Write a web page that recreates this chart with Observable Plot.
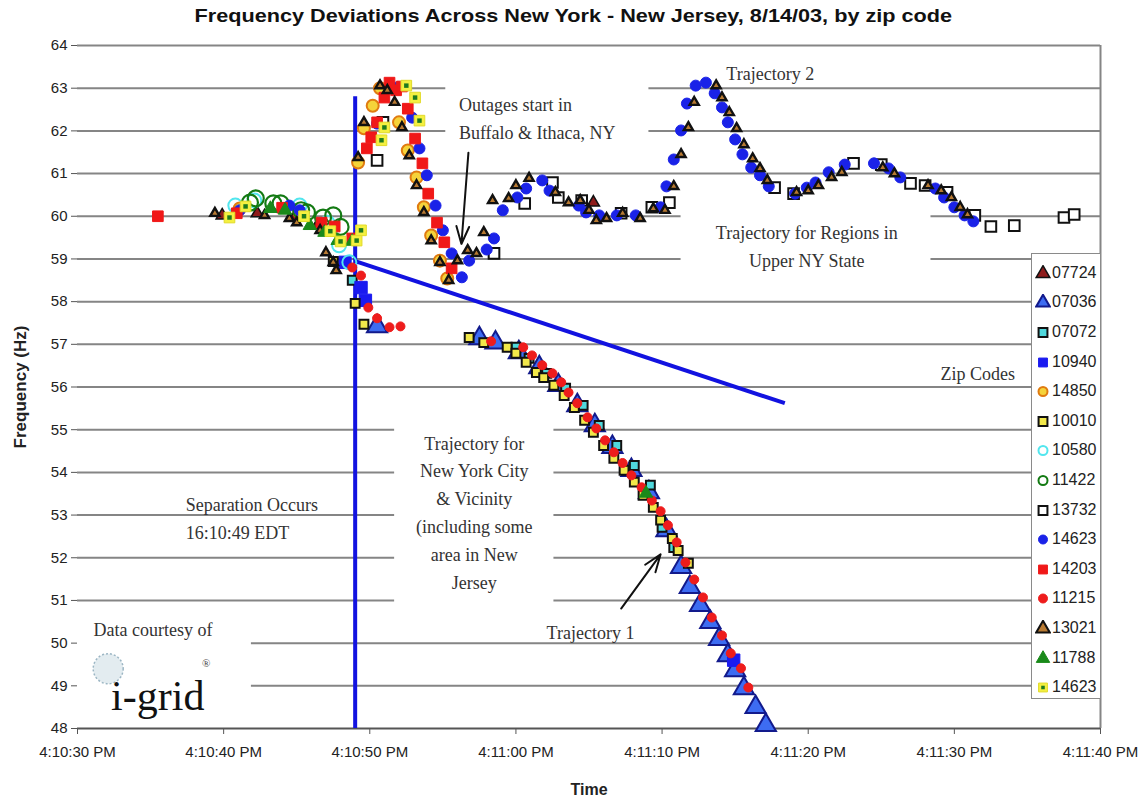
<!DOCTYPE html>
<html>
<head>
<meta charset="utf-8">
<script src="https://cdn.jsdelivr.net/npm/d3@7"></script>
<script src="https://cdn.jsdelivr.net/npm/@observablehq/plot@0.6"></script>
<style>
  body { margin: 0; background: #fff; }
  #wrap { position: relative; width: 1146px; height: 803px; overflow: hidden; font-family: "Liberation Sans", Arial, sans-serif; }
  #title { position: absolute; top: 5px; left: 0; width: 1146px; text-align: center; }
  #title span { display: inline-block; font-weight: bold; font-size: 19px; color: #111; transform: scaleX(1.14); transform-origin: center; }
  #chart { position: absolute; top: 0; left: 0; }
  #chart g[aria-label="x-axis label"] text { font-weight: bold; font-size: 16px; }
  #chart g[aria-label="y-axis label"] text { font-weight: bold; font-size: 17px; }
  #legend { position: absolute; left: 1031px; top: 253px; width: 70px; height: 446px; background: #fff; border: 1px solid #8a8a8a; box-sizing: border-box; padding-top: 4px; }
  #legend .item { display: flex; align-items: center; height: 29.6px; font-size: 16px; color: #222; }
  #legend svg { margin-left: 3px; margin-right: 1px; }
</style>
</head>
<body>
<div id="wrap">
  <div id="title"><span>Frequency Deviations Across New York - New Jersey, 8/14/03, by zip code</span></div>
  <div id="chart"></div>
  <div id="legend"></div>
</div>
<script>
// Each point is [seconds after 4:10:00 PM, frequency in Hz]
const zip07724 = [[39.9,60.02],[42.3,60.07],[44.9,60.0],[46.4,59.78],[65.3,60.32]];
const zip07036 = [[50.5,57.42],[57.5,57.14],[58.6,57.04],[60.2,56.81],[61.6,56.46],[62.9,56.04],[64.2,55.57],[65.4,55.10],[66.6,54.59],[67.9,54.05],[69.1,53.53],[70.3,52.64],[71.3,51.78],[71.9,51.31],[72.6,50.89],[73.3,50.49],[73.9,50.09],[74.5,49.71],[75.0,49.36],[75.6,48.94],[76.4,48.50],[77.1,48.08]];
const zip07072 = [[48.8,58.50],[60.0,56.93],[60.9,56.67],[62.1,56.32],[63.4,55.97],[64.6,55.57],[65.7,55.10],[66.9,54.63],[68.1,54.16],[69.2,53.70],[70.0,52.71],[70.8,52.24]];
const zip10940 = [[48.3,58.92],[49.4,58.33],[49.7,58.03],[74.9,49.60]];
const zip14850 = [[41.1,60.18],[45.2,60.09],[49.2,61.26],[49.6,62.06],[50.2,62.59],[50.7,63.0],[52.0,62.20],[52.6,61.54],[53.2,60.91],[53.7,60.21],[54.2,59.55],[54.8,58.96],[55.3,58.54]];
const zip10010 = [[47.5,58.94],[49.0,57.96],[49.6,57.47],[56.8,57.16],[57.8,57.04],[59.4,56.93],[60.0,56.79],[60.7,56.58],[61.4,56.34],[61.9,56.22],[62.6,56.04],[63.3,55.80],[64.0,55.52],[64.7,55.22],[65.3,54.94],[66.0,54.63],[66.7,54.33],[67.4,54.05],[68.1,53.77],[68.7,53.46],[69.4,53.18],[69.9,52.88],[70.7,52.45],[71.1,52.17],[71.8,51.87]];
const zip10580 = [[40.8,60.25],[42.1,60.37],[45.2,60.25],[47.1,59.85],[47.9,59.32],[48.6,58.92]];
const zip11422 = [[41.8,60.32],[42.2,60.42],[43.4,60.30],[43.9,60.30],[45.3,60.14],[45.7,60.09],[46.8,59.97],[47.5,60.02],[48.0,59.75]];
const zip13732 = [[50.5,61.31],[50.9,62.20],[58.5,59.13],[60.6,60.30],[62.5,60.79],[62.9,60.44],[64.5,60.37],[67.2,60.07],[69.3,60.21],[70.5,60.32],[77.7,60.67],[79.0,60.53],[83.1,61.24],[85.0,61.21],[87.0,60.77],[88.0,60.72],[89.5,60.56],[91.4,60.02],[92.5,59.76],[94.1,59.78],[97.5,59.97],[98.2,60.04]];
const zip14623 = [[41.1,60.14],[44.5,60.25],[45.2,60.14],[50.5,62.17],[51.9,63.02],[52.9,62.31],[53.4,61.59],[53.9,60.96],[54.5,60.25],[55.0,59.67],[55.6,59.13],[56.3,58.57],[56.8,58.96],[58.0,59.22],[58.5,59.48],[59.1,60.14],[60.1,60.44],[60.7,60.65],[61.8,60.84],[62.3,60.60],[64.3,60.25],[64.8,60.09],[65.7,60.02],[66.9,60.02],[68.2,60.02],[69.9,60.21],[70.3,60.70],[70.8,61.33],[71.3,62.01],[71.7,62.64],[72.3,63.06],[73.0,63.13],[73.6,62.88],[74.1,62.55],[74.5,62.20],[75.0,61.80],[75.5,61.45],[76.1,61.14],[76.7,60.96],[77.3,60.70],[79.1,60.53],[79.9,60.67],[80.5,60.79],[81.4,61.03],[82.5,61.21],[84.5,61.24],[85.5,61.12],[86.3,60.91],[88.7,60.65],[89.3,60.44],[90.0,60.21],[90.7,60.02],[91.3,59.88]];
const zip14203 = [[35.5,60.0],[40.9,60.07],[44.0,60.20],[46.7,59.85],[47.6,59.76],[48.8,59.48],[49.8,61.59],[50.1,61.85],[50.5,62.20],[51.0,62.78],[51.35,63.13],[51.8,62.95],[52.2,63.04],[52.6,62.52],[53.1,61.82],[53.6,61.24],[54.0,60.53],[54.6,59.85],[55.1,59.39],[55.6,58.78]];
const zip11215 = [[48.8,58.80],[49.4,58.61],[49.9,57.86],[50.5,57.61],[51.35,57.40],[52.1,57.42],[58.3,57.07],[60.5,56.93],[61.1,56.74],[61.8,56.51],[62.5,56.32],[63.1,56.11],[63.6,55.87],[64.2,55.62],[64.9,55.29],[65.5,55.03],[66.1,54.75],[66.7,54.47],[67.3,54.22],[67.9,53.93],[68.6,53.65],[69.3,53.34],[69.9,53.09],[70.4,52.76],[71.0,52.36],[71.6,51.89],[72.2,51.49],[72.8,51.07],[73.4,50.60],[74.1,50.18],[74.7,49.76],[75.4,49.41],[75.9,48.96]];
const zip13021 = [[39.4,60.07],[42.8,60.02],[44.5,59.95],[45.0,59.85],[46.6,59.67],[47.0,59.15],[47.5,58.92],[47.7,58.73],[49.2,61.38],[49.6,62.20],[50.7,63.06],[51.2,62.95],[51.7,62.67],[52.2,62.08],[52.7,61.42],[53.2,60.72],[53.7,60.09],[54.2,59.43],[54.8,58.92],[55.4,58.50],[56.0,58.96],[56.7,59.20],[57.3,59.13],[57.8,59.62],[58.4,60.37],[59.5,60.42],[60.0,60.72],[60.9,60.89],[62.7,60.56],[63.6,60.32],[64.4,60.37],[65.0,60.14],[65.5,59.90],[66.2,59.95],[67.3,60.07],[68.5,59.95],[69.4,60.18],[70.2,60.14],[70.8,60.70],[71.3,61.45],[71.8,62.08],[72.2,62.67],[73.7,63.06],[74.1,62.78],[74.6,62.43],[75.1,62.06],[75.6,61.68],[76.2,61.35],[76.7,61.12],[77.2,60.84],[79.2,60.56],[80.0,60.60],[80.7,60.72],[81.6,60.91],[82.3,61.03],[85.1,61.14],[85.9,61.00],[88.2,60.72],[89.1,60.60],[89.8,60.44],[90.4,60.21],[90.9,60.04]];
const zip11788 = [[43.2,60.18],[44.2,60.14],[45.9,59.78],[46.9,59.62],[47.8,59.43],[48.8,59.41],[68.9,53.51]];
const zip14623b = [[40.4,59.97],[41.5,60.23],[45.5,60.0],[47.3,59.65],[48.0,59.41],[49.1,59.43],[49.4,59.67],[50.8,61.78],[51.0,62.08],[52.5,63.06],[53.1,62.78],[53.4,62.24]];

// Series in legend order; the last one repeats the 14623 label
const zipLabels = ["07724","07036","07072","10940","14850","10010","10580","11422","13732","14623","14203","11215","13021","11788","14623"];
const zipPoints = [zip07724, zip07036, zip07072, zip10940, zip14850, zip10010, zip10580, zip11422, zip13732, zip14623, zip14203, zip11215, zip13021, zip11788, zip14623b];

const xTickSeconds = [30, 40, 50, 60, 70, 80, 90, 100];
const yTicks = [48,49,50,51,52,53,54,55,56,57,58,59,60,61,62,63,64];

// Marker look for each series (same order as zipLabels)
const markerStyles = [
  {symbol:"triangle", fill:"#8e1b1b", stroke:"#111", sw:1.5, r:4.5},
  {symbol:"triangle", fill:"#3d6cf2", stroke:"#121a8c", sw:2, r:7.5},
  {symbol:"square", fill:"#4fd8dc", stroke:"#111", sw:2, r:5},
  {symbol:"square", fill:"#1a1af0", stroke:"#1a1af0", sw:1, r:7},
  {symbol:"circle", fill:"#f5d33a", stroke:"#e07b10", sw:2, r:6},
  {symbol:"square", fill:"#f2e84a", stroke:"#111", sw:2, r:5},
  {symbol:"circle", fill:"none", stroke:"#52e6ee", sw:2, r:7},
  {symbol:"circle", fill:"none", stroke:"#137a13", sw:2.2, r:8},
  {symbol:"square", fill:"#fff", stroke:"#111", sw:2, r:6},
  {symbol:"circle", fill:"#1a22e8", stroke:"#1a22e8", sw:1, r:5.5},
  {symbol:"square", fill:"#f01818", stroke:"#f01818", sw:1, r:6},
  {symbol:"circle", fill:"#ee1c1c", stroke:"#ee1c1c", sw:1, r:4.5},
  {symbol:"triangle", fill:"#b87a32", stroke:"#111", sw:2.4, r:3.4},
  {symbol:"triangle", fill:"#1a8a1a", stroke:"#1a8a1a", sw:1, r:5},
  {symbol:"square", fill:"#f4f040", stroke:"#e2da2a", sw:1, r:6, inner:"#1e7a1e"}
];

const base = new Date(2003, 7, 14, 16, 10, 0);
const t = s => new Date(base.getTime() + Math.round(s * 1000));
const fmt = d3.timeFormat("%-I:%M:%S %p");

// Annotation boxes that hide the gridlines behind text (seconds, Hz)
const noteBoxes = [
  {s1:55.2, s2:69.1, f1:61.78, f2:63.23},
  {s1:71.3, s2:88.4, f1:58.62, f2:60.22},
  {s1:51.7, s2:62.6, f1:50.88, f2:55.26},
  {s1:29.8, s2:41.9, f1:48.06, f2:50.72}
];
const serif = "'Liberation Serif', 'Times New Roman', serif";
// Left-aligned annotations
const notesLeft = [
  {s:56.1, f:62.35, text:"Outages start in\nBuffalo & Ithaca, NY"},
  {s:37.4, f:52.97, text:"Separation Occurs\n16:10:49 EDT"},
  {s:31.1, f:50.37, text:"Data courtesy of"}
];
// Centred annotations
const notesCentre = [
  {s:77.4, f:63.41, text:"Trajectory 2"},
  {s:79.9, f:59.34, text:"Trajectory for Regions in\nUpper NY State"},
  {s:57.15, f:53.11, text:"Trajectory for\nNew York City\n& Vicinity\n(including some\narea in New\nJersey"},
  {s:65.1, f:50.30, text:"Trajectory 1"},
  {s:91.6, f:56.37, text:"Zip Codes"}
];
const arrows = [
  {s1:56.75, f1:61.49, s2:56.27, f2:59.35},
  {s1:67.2, f1:50.81, s2:69.9, f2:52.08}
];
const separationTime = 49;   // 16:10:49
const separationLine = {s1:49, f1:58.95, s2:78.4, f2:55.62};

const seriesMarks = [];
zipPoints.forEach((pts, i) => {
  const st = markerStyles[i];
  seriesMarks.push(Plot.dot(pts, {
    x: d => t(d[0]), y: d => d[1], symbol: st.symbol, r: st.r,
    fill: st.fill, stroke: st.stroke, strokeWidth: st.sw
  }));
  if (st.inner) {
    seriesMarks.push(Plot.dot(pts, {
      x: d => t(d[0]), y: d => d[1], symbol: "square", r: st.r * 0.42, fill: st.inner
    }));
  }
});

const chart = Plot.plot({
  width: 1146,
  height: 803,
  marginTop: 45,
  marginBottom: 75,
  marginLeft: 77,
  marginRight: 46,
  style: {fontFamily: "'Liberation Sans', Arial, sans-serif", fontSize: "15px", color: "#222", background: "transparent"},
  x: {type: "time", domain: [t(30), t(100)]},
  y: {domain: [48, 64]},
  marks: [
    Plot.ruleY(yTicks.slice(1), {stroke: "#858585", strokeWidth: 2}),
    Plot.ruleX([t(100)], {y1: 48, y2: 64, stroke: "#858585", strokeWidth: 2}),
    Plot.rect(noteBoxes, {x1: d => t(d.s1), x2: d => t(d.s2), y1: "f1", y2: "f2", fill: "white"}),
    Plot.ruleY([48], {stroke: "#555", strokeWidth: 2}),
    Plot.axisX({ticks: xTickSeconds.map(t), tickFormat: fmt, tickSize: 6, tickPadding: 12, stroke: "#555",
      label: "Time", labelAnchor: "center", labelArrow: "none", labelOffset: 66}),
    Plot.axisY({ticks: yTicks, tickSize: 6, tickPadding: 4, stroke: "#555",
      label: "Frequency (Hz)", labelAnchor: "center", labelArrow: "none", labelOffset: 64}),
    Plot.text(notesLeft, {x: d => t(d.s), y: "f", text: "text", textAnchor: "start",
      fontFamily: serif, fontSize: 18, lineHeight: 1.55, fill: "#333"}),
    Plot.text(notesCentre, {x: d => t(d.s), y: "f", text: "text", textAnchor: "middle",
      fontFamily: serif, fontSize: 18, lineHeight: 1.55, fill: "#333"}),
    // i-grid logo: faint globe fan behind the wordmark
    Plot.dot([0], {x: t(32.1), y: 49.4, r: 15, fill: "#e3ecf0", stroke: "#9cb6c4", strokeWidth: 1.5, strokeDasharray: "2,2"}),
    Plot.text(["i-grid"], {x: t(32.3), y: 48.75, text: d => d, textAnchor: "start",
      fontFamily: serif, fontSize: 42, fill: "#111"}),
    Plot.text(["®"], {x: t(38.8), y: 49.52, text: d => d, fontFamily: serif, fontSize: 11, fill: "#444"}),
    Plot.arrow(arrows, {x1: d => t(d.s1), y1: "f1", x2: d => t(d.s2), y2: "f2",
      stroke: "#111", strokeWidth: 2, headLength: 14, headAngle: 40}),
    Plot.ruleX([t(separationTime)], {y1: 48, y2: 62.8, stroke: "#1212e0", strokeWidth: 4}),
    Plot.link([separationLine], {x1: d => t(d.s1), y1: "f1", x2: d => t(d.s2), y2: "f2",
      stroke: "#1212e0", strokeWidth: 4}),
    ...seriesMarks
  ]
});
document.getElementById("chart").appendChild(chart);

// Legend box with one row per series
const legend = d3.select("#legend");
zipLabels.forEach((label, i) => {
  const st = markerStyles[i];
  const row = legend.append("div").attr("class", "item");
  const svg = row.append("svg").attr("width", 16).attr("height", 16);
  const sym = {triangle: d3.symbolTriangle, square: d3.symbolSquare, circle: d3.symbolCircle}[st.symbol];
  const r = st.symbol === "circle" ? 4.5 : 5;
  svg.append("path").attr("transform", "translate(8,8.5)")
    .attr("d", d3.symbol(sym, Math.PI * r * r)())
    .attr("fill", st.fill === "none" ? "#fff" : st.fill)
    .attr("stroke", st.stroke).attr("stroke-width", Math.min(st.sw, 2));
  if (st.inner) {
    svg.append("path").attr("transform", "translate(8,8.5)")
      .attr("d", d3.symbol(d3.symbolSquare, Math.PI * 4)()).attr("fill", st.inner);
  }
  row.append("span").text(label);
});
</script>
</body>
</html>
